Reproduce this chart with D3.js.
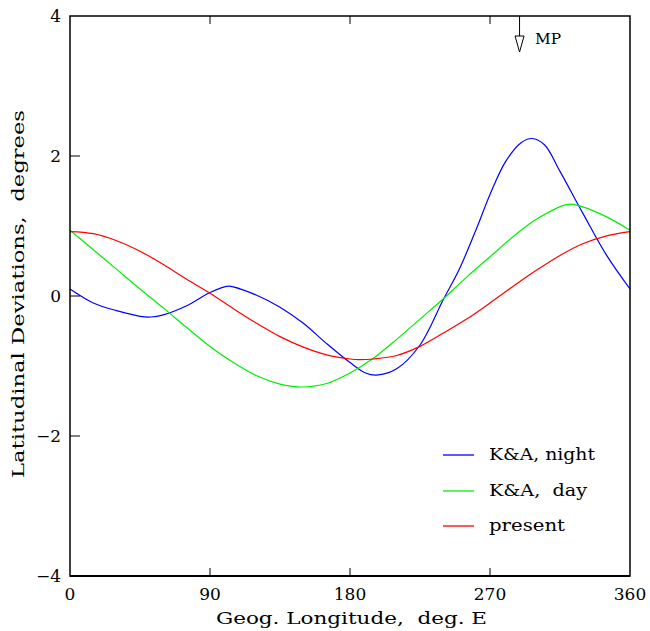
<!DOCTYPE html>
<html><head><meta charset="utf-8">
<script src="https://cdn.jsdelivr.net/npm/d3@7/dist/d3.min.js"></script>
<style>body{margin:0;background:#fff}text{font-family:"DejaVu Serif",serif;white-space:pre;fill:#000}</style>
</head><body><svg id="c" width="650" height="631"></svg>
<script>
const lonNight = [0,15,30,45,52,60,75,90,102,105,120,135,150,165,180,190,197,210,225,240,250,262,270,280,290,297,305,315,330,345,360];
const night    = [0.10,-0.10,-0.21,-0.29,-0.30,-0.27,-0.14,0.05,0.14,0.13,0.01,-0.16,-0.39,-0.68,-0.95,-1.10,-1.13,-1.04,-0.70,-0.05,0.37,1.00,1.45,1.92,2.19,2.25,2.16,1.78,1.17,0.58,0.10];
const lonDay   = [0,15,30,45,60,75,90,105,120,135,148,165,180,195,210,225,240,255,270,285,300,320,330,345,360];
const day      = [0.94,0.66,0.38,0.10,-0.17,-0.45,-0.72,-0.95,-1.14,-1.26,-1.30,-1.25,-1.10,-0.89,-0.62,-0.33,-0.04,0.27,0.56,0.85,1.10,1.31,1.27,1.13,0.94];
const lonPres  = [0,15,30,45,60,75,90,105,120,135,150,165,180,186,195,210,225,240,255,270,285,300,315,330,345,360];
const present  = [0.92,0.89,0.79,0.64,0.45,0.24,0.04,-0.18,-0.39,-0.58,-0.73,-0.84,-0.90,-0.91,-0.90,-0.85,-0.72,-0.53,-0.33,-0.10,0.14,0.37,0.58,0.75,0.86,0.92];
const xTicks = [0,90,180,270,360];
const yTicks = [-4,-2,0,2,4];
const legendLabels = ["K&A, night","K&A,  day","present"];
const colors = ["#0000ff","#00ee00","#ff0000"];
const mpLon = 289;

const svg = d3.select("#c");
const L=70,R=630,T=16,B=576;
const x = d3.scaleLinear().domain([0,360]).range([L,R]);
const y = d3.scaleLinear().domain([-4,4]).range([B,T]);

const series = [
  {lon:lonNight, v:night},
  {lon:lonDay, v:day},
  {lon:lonPres, v:present}
];
const line = d3.line().x(d=>x(d[0])).y(d=>y(d[1])).curve(d3.curveCatmullRom.alpha(0.5));
series.forEach((s,i)=>{
  svg.append("path").attr("d", line(s.lon.map((l,j)=>[l,s.v[j]])))
    .attr("fill","none").attr("stroke",colors[i]).attr("stroke-width",1.2);
});

// frame
svg.append("rect").attr("x",L).attr("y",T).attr("width",R-L).attr("height",B-T)
  .attr("fill","none").attr("stroke","#000").attr("stroke-width",1.5);
svg.append("line").attr("x1",L).attr("x2",R).attr("y1",B).attr("y2",B).attr("stroke","#000").attr("stroke-width",2);

// ticks
const tk=8;
xTicks.slice(1,-1).forEach(t=>{
  svg.append("line").attr("x1",x(t)).attr("x2",x(t)).attr("y1",B).attr("y2",B-tk).attr("stroke","#000");
  svg.append("line").attr("x1",x(t)).attr("x2",x(t)).attr("y1",T).attr("y2",T+tk).attr("stroke","#000");
});
yTicks.slice(1,-1).forEach(t=>{
  svg.append("line").attr("x1",L).attr("x2",L+tk+2).attr("y1",y(t)).attr("y2",y(t)).attr("stroke","#000");
});
xTicks.forEach(t=>{
  svg.append("text").attr("x",x(t)).attr("y",600).attr("text-anchor","middle")
    .attr("font-size",17).text(t);
});
yTicks.forEach(t=>{
  svg.append("text").attr("x",61).attr("y",y(t)+6).attr("text-anchor","end")
    .attr("font-size",17).text(t<0?"\u2212"+Math.abs(t):t);
});

// axis titles
svg.append("text").attr("x",216).attr("y",624).attr("font-size",16)
  .attr("textLength",271).attr("lengthAdjust","spacingAndGlyphs").text("Geog. Longitude,  deg. E");
svg.append("text").attr("transform","translate(24,478) rotate(-90)").attr("font-size",16)
  .attr("textLength",368).attr("lengthAdjust","spacingAndGlyphs").text("Latitudinal Deviations,  degrees");

// legend
const ly=[455,491,526];
const widths=[106,98,76];
legendLabels.forEach((lab,i)=>{
  svg.append("line").attr("x1",443).attr("x2",474).attr("y1",ly[i]).attr("y2",ly[i])
    .attr("stroke",colors[i]).attr("stroke-width",1.3);
  svg.append("text").attr("x",489).attr("y",ly[i]+5).attr("font-size",16)
    .attr("textLength",widths[i]).attr("lengthAdjust","spacingAndGlyphs").text(lab);
});

// MP marker
const mx=x(mpLon);
svg.append("line").attr("x1",mx).attr("x2",mx).attr("y1",T).attr("y2",36).attr("stroke","#000");
svg.append("path").attr("d",`M${mx-4.5},36 L${mx+4.5},36 L${mx},52 Z`).attr("fill","#fff").attr("stroke","#000");
svg.append("text").attr("x",535).attr("y",44).attr("font-size",15)
  .attr("textLength",26).attr("lengthAdjust","spacingAndGlyphs").text("MP");
</script></body></html>
